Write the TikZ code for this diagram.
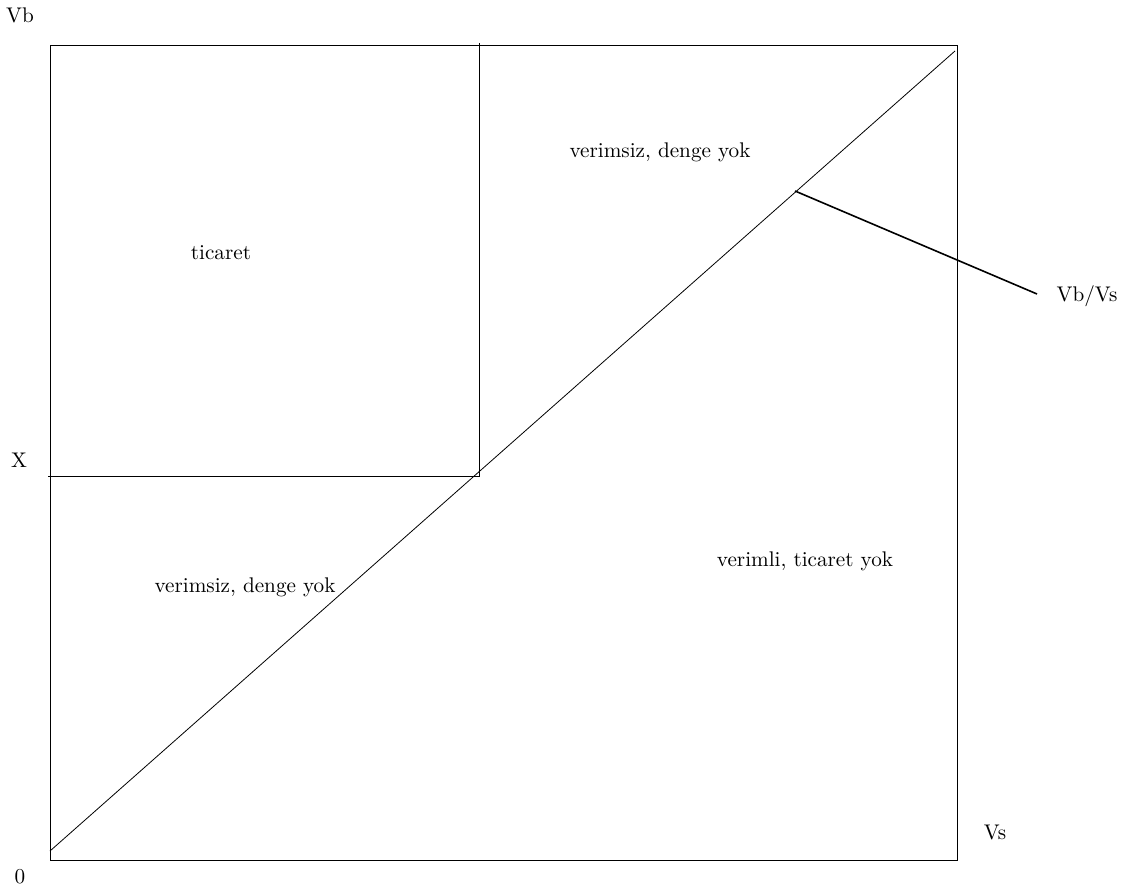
\documentclass[tikz,border=0pt]{standalone}
\begin{document}
\begin{tikzpicture}[x=0.5pt,y=-0.5pt,
  thin line/.style={line width=0.4pt},
  thick line/.style={line width=0.8pt},
  lbl/.style={inner sep=0pt, font=\fontsize{10.6}{12}\selectfont}]
\useasboundingbox (0,0) rectangle (1130,892);
% frame
\coordinate (BL) at (50,860);
\coordinate (TR) at (957,45);
\draw[thin line] (BL) rectangle (TR);
% diagonal
\coordinate (d0) at (50,851);
\coordinate (d1) at (955,51);
\draw[thin line] (d0) -- (d1);
% trade box
\coordinate (vt) at (479,43);
\coordinate (corner) at (479,476);
\coordinate (hx) at (48,476);
\draw[thin line] (vt) -- (corner) -- (hx);
% labels
\node[lbl] (vb) at (20,15) {Vb};
\node[lbl] (x) at (19,460) {X};
\node[lbl] (zero) at (20,877) {0};
\node[lbl] (vs) at (995,832) {Vs};
\node[lbl] (tic) at (221,253) {ticaret};
\node[lbl] (vdy1) at (660,152) {verimsiz, denge yok};
\node[lbl] (vdy2) at (245,587) {verimsiz, denge yok};
\node[lbl] (vty) at (805,561) {verimli, ticaret yok};
\node[lbl] (ratio) at (1087,296) {Vb/Vs};
% pointer
\coordinate (p0) at (795,191);
\coordinate (p1) at (1037,294);
\draw[thick line] (p0) -- (p1);
\end{tikzpicture}
\end{document}
